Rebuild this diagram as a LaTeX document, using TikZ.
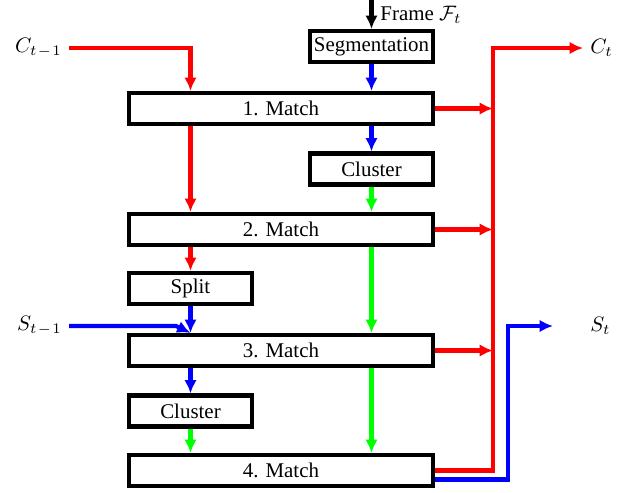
\documentclass[tikz,border=0pt]{standalone}
\usepackage{fontspec}
\setmainfont{Liberation Serif}
\usetikzlibrary{arrows.meta}
\definecolor{cred}{RGB}{255,0,0}
\definecolor{cblue}{RGB}{0,0,255}
\definecolor{cgreen}{RGB}{0,255,0}
\begin{document}
\begin{tikzpicture}[x=0.478pt,y=-0.478pt,
  box/.style={draw, line width=2pt, inner sep=0pt, minimum height=14.8pt},
  wide/.style={box, minimum width=145.3pt},
  small/.style={box, minimum width=58.8pt},
  conn/.style={line width=2pt, -{Latex[length=6.4pt,width=6pt]}},
  lab/.style={inner sep=3.3pt}]
\useasboundingbox (0,0) rectangle (621,492);
% boxes
\node[small] (seg) at (371.5,46.5) {Segmentation};
\node[wide] (m1) at (281,108.5) {1. Match};
\node[small] (cl1) at (371.5,169) {Cluster};
\node[wide] (m2) at (281,229.5) {2. Match};
\node[small] (sp) at (190.5,288.5) {Split};
\node[wide] (m3) at (281,350.5) {3. Match};
\node[small] (cl2) at (190.5,411) {Cluster};
\node[wide] (m4) at (281,470.5) {4. Match};
% labels
\node[lab, anchor=east] (cin) at (69,48) {$C_{t\mkern1.5mu-\mkern1.5mu1}$};
\node[lab, anchor=east] (sin) at (69,326) {$S_{t\mkern1.5mu-\mkern1.5mu1}$};
\node[lab, anchor=west] (cout) at (583,48) {$C_t$};
\node[lab, anchor=west] (sout) at (583,326) {$S_t$};
% helper coordinates
\coordinate (ftop) at (371.5,0);
\coordinate (bus) at (493,0);
\coordinate (sbus) at (508,0);
\coordinate (send) at (553,326);
\coordinate (sbend) at (176,326);
% connectors
\draw[conn] (ftop) -- (seg.north) node[midway, right, lab] {Frame $\mathcal{F}_t$};
\draw[conn, cblue] (seg.south) -- (m1.north -| seg.south);
\draw[conn, cblue] (m1.south -| cl1.north) -- (cl1.north);
\draw[conn, cgreen] (cl1.south) -- (m2.north -| cl1.south);
\draw[conn, cgreen] (m2.south -| cl1.south) -- (m3.north -| cl1.south);
\draw[conn, cgreen] (m3.south -| cl1.south) -- (m4.north -| cl1.south);
\draw[conn, cred] (cin.east) -| (m1.north -| sp.north);
\draw[conn, cred] (m1.south -| sp.north) -- (m2.north -| sp.north);
\draw[conn, cred] (m2.south -| sp.north) -- (sp.north);
\draw[conn, cblue] (sp.south) -- (m3.north -| sp.south);
\draw[conn, cblue] (sin.east) -- (sbend) -- (m3.north -| sp.south);
\draw[conn, cblue] (m3.south -| cl2.north) -- (cl2.north);
\draw[conn, cgreen] (cl2.south) -- (m4.north -| cl2.south);
\draw[conn, cred] (m1.east) -- (m1.east -| bus);
\draw[conn, cred] (m2.east) -- (m2.east -| bus);
\draw[conn, cred] (m3.east) -- (m3.east -| bus);
\draw[conn, cred] (m4.east) -| (bus |- cout.west) -- (cout.west);
\draw[conn, cblue] ([yshift=-4.3pt]m4.east) -| (sbus |- send) -- (send);
\end{tikzpicture}
\end{document}
